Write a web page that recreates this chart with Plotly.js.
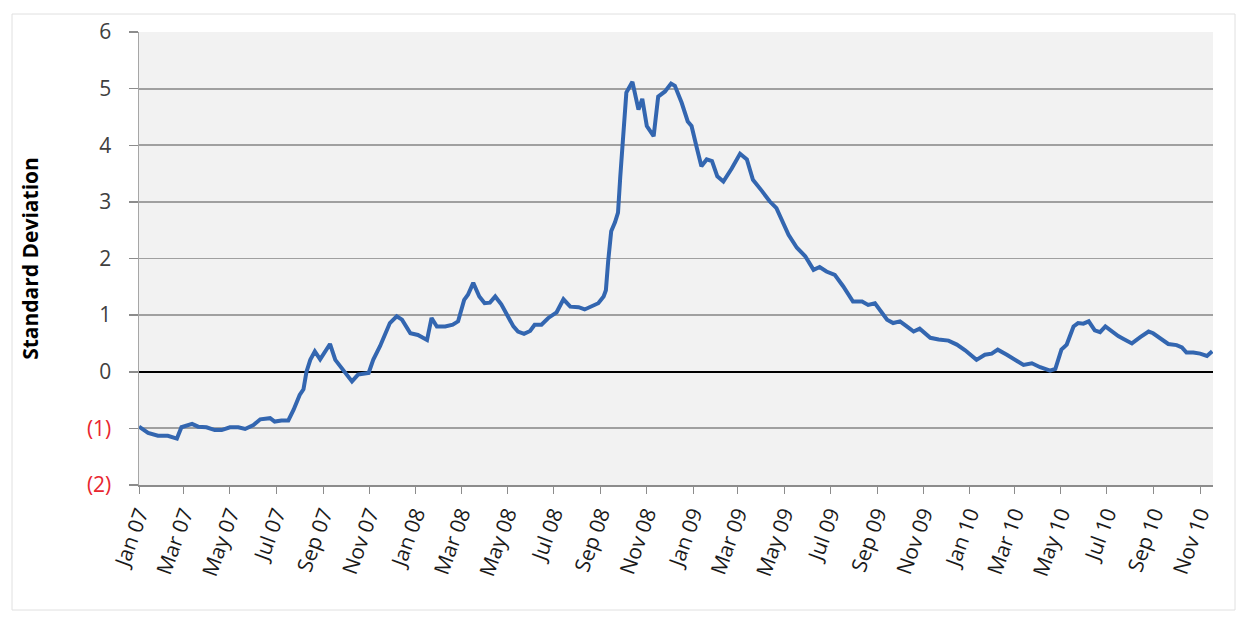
<!DOCTYPE html>
<html>
<head>
<meta charset="utf-8">
<script src="https://cdn.plot.ly/plotly-3.0.1.min.js"></script>
<style>html,body{margin:0;padding:0;background:#fff;}#chart{width:1244px;height:617px;}</style>
</head>
<body>
<div id="chart"></div>
<script>
const dates = [
"2007-01-01","2007-01-13","2007-01-26","2007-02-08","2007-02-20","2007-02-26","2007-03-12","2007-03-20","2007-03-31","2007-04-11",
"2007-04-20","2007-05-01","2007-05-12","2007-05-21","2007-06-01","2007-06-10","2007-06-23","2007-06-29","2007-07-08","2007-07-17",
"2007-07-24","2007-08-01","2007-08-06","2007-08-10","2007-08-15","2007-08-21","2007-08-28","2007-09-03","2007-09-10","2007-09-17",
"2007-09-25","2007-10-09","2007-10-17","2007-10-31","2007-11-06","2007-11-15","2007-11-28","2007-12-07","2007-12-14","2007-12-25",
"2008-01-04","2008-01-16","2008-01-22","2008-01-29","2008-02-09","2008-02-19","2008-02-26","2008-03-05","2008-03-10","2008-03-17",
"2008-03-25","2008-04-01","2008-04-08","2008-04-15","2008-04-23","2008-05-01","2008-05-09","2008-05-15","2008-05-23","2008-05-31",
"2008-06-06","2008-06-15","2008-06-24","2008-07-05","2008-07-14","2008-07-23","2008-08-03","2008-08-11","2008-08-20","2008-08-29",
"2008-09-05","2008-09-08","2008-09-11","2008-09-15","2008-09-20","2008-09-24","2008-09-27","2008-10-01","2008-10-05","2008-10-13",
"2008-10-21","2008-10-26","2008-11-01","2008-11-10","2008-11-16","2008-11-25","2008-12-03","2008-12-08","2008-12-17","2008-12-25",
"2008-12-30","2009-01-06","2009-01-12","2009-01-19","2009-01-26","2009-02-02","2009-02-10","2009-02-21","2009-03-04","2009-03-13",
"2009-03-21","2009-04-02","2009-04-12","2009-04-21","2009-04-30","2009-05-07","2009-05-18","2009-05-29","2009-06-09","2009-06-17",
"2009-06-26","2009-07-07","2009-07-18","2009-07-31","2009-08-12","2009-08-20","2009-08-29","2009-09-05","2009-09-14","2009-09-22",
"2009-10-01","2009-10-10","2009-10-19","2009-10-27","2009-11-10","2009-11-21","2009-12-04","2009-12-15","2009-12-26","2010-01-10",
"2010-01-21","2010-01-30","2010-02-07","2010-02-19","2010-03-02","2010-03-13","2010-03-24","2010-04-04","2010-04-17","2010-04-24",
"2010-05-02","2010-05-09","2010-05-18","2010-05-24","2010-05-31","2010-06-07","2010-06-15","2010-06-22","2010-06-29","2010-07-07",
"2010-07-16","2010-07-23","2010-08-03","2010-08-14","2010-08-25","2010-08-31","2010-09-11","2010-09-20","2010-10-01","2010-10-08",
"2010-10-14","2010-10-23","2010-11-01","2010-11-10","2010-11-17"
];
const stdDev = [
-0.97,-1.08,-1.13,-1.13,-1.18,-0.98,-0.92,-0.97,-0.98,-1.03,
-1.03,-0.98,-0.98,-1.01,-0.94,-0.84,-0.82,-0.88,-0.86,-0.86,
-0.67,-0.41,-0.31,0.00,0.21,0.36,0.22,0.36,0.49,0.21,
0.07,-0.17,-0.05,-0.02,0.21,0.45,0.86,0.98,0.92,0.68,
0.65,0.56,0.95,0.80,0.80,0.83,0.89,1.27,1.36,1.57,
1.33,1.21,1.22,1.33,1.19,0.98,0.80,0.71,0.67,0.72,
0.83,0.83,0.95,1.05,1.28,1.15,1.14,1.10,1.15,1.21,
1.33,1.44,1.95,2.48,2.64,2.81,3.45,4.22,4.93,5.12,
4.63,4.82,4.34,4.16,4.86,4.95,5.09,5.05,4.75,4.42,
4.34,3.95,3.63,3.75,3.72,3.45,3.36,3.59,3.85,3.75,
3.39,3.19,3.01,2.89,2.63,2.42,2.19,2.04,1.80,1.85,
1.77,1.71,1.51,1.24,1.24,1.18,1.21,1.07,0.92,0.86,
0.89,0.80,0.71,0.76,0.60,0.57,0.55,0.48,0.38,0.21,
0.30,0.32,0.39,0.30,0.21,0.12,0.15,0.08,0.02,0.05,
0.39,0.48,0.80,0.86,0.85,0.89,0.73,0.70,0.80,0.71,
0.63,0.58,0.50,0.61,0.71,0.68,0.57,0.49,0.47,0.43,
0.34,0.34,0.32,0.28,0.36
];
const yTickVals = [-2,-1,0,1,2,3,4,5,6];
const yTickText = ['<span style="color:#e8262f">(2)</span>','<span style="color:#e8262f">(1)</span>','0','1','2','3','4','5','6'];
const yTitle = 'Standard Deviation';

const trace = {
  x: dates, y: stdDev, type: 'scatter', mode: 'lines',
  line: {color: '#3366b0', width: 4}, hoverinfo: 'x+y'
};

const layout = {
  width: 1244, height: 617,
  margin: {l: 139, r: 31, t: 32, b: 132},
  paper_bgcolor: '#ffffff',
  plot_bgcolor: '#f2f2f2',
  showlegend: false,
  font: {family: '"Open Sans", "Liberation Sans", sans-serif', color: '#404040'},
  xaxis: {
    type: 'date',
    range: ['2007-01-01', '2010-11-18'],
    tick0: '2007-01-01', dtick: 'M2', tickformat: '%b %y',
    tickangle: -70,
    tickfont: {size: 21, color: '#1a1a1a'},
    ticks: 'outside', ticklen: 7, tickcolor: '#8c8c8c', tickwidth: 1,
    showgrid: false, showline: true, linecolor: '#8c8c8c', linewidth: 1.5,
    zeroline: false, automargin: false
  },
  yaxis: {
    range: [-2, 6],
    tickvals: yTickVals, ticktext: yTickText,
    tickfont: {size: 21, color: '#404040'},
    ticks: 'outside', ticklen: 9, tickcolor: '#8c8c8c', tickwidth: 1.5,
    ticklabelstandoff: 13,
    showgrid: true, gridcolor: '#a0a0a0', gridwidth: 1.8,
    showline: true, linecolor: '#a6a6a6', linewidth: 1.5,
    zeroline: true, zerolinecolor: '#000000', zerolinewidth: 2,
    automargin: false,
    title: {text: yTitle, font: {size: 21, color: '#000000', family: '"Open Sans", "Liberation Sans", sans-serif', weight: 'bold'}, standoff: 42}
  },
  shapes: [{
    type: 'rect', xref: 'paper', yref: 'paper',
    x0: -127/1074, x1: 1 + 22/1074, y0: -125/453, y1: 1 + 18/453,
    line: {color: '#e0e0e0', width: 1}, fillcolor: 'rgba(0,0,0,0)', layer: 'below'
  }]
};

Plotly.newPlot('chart', [trace], layout, {displayModeBar: false, staticPlot: true});
</script>
</body>
</html>
